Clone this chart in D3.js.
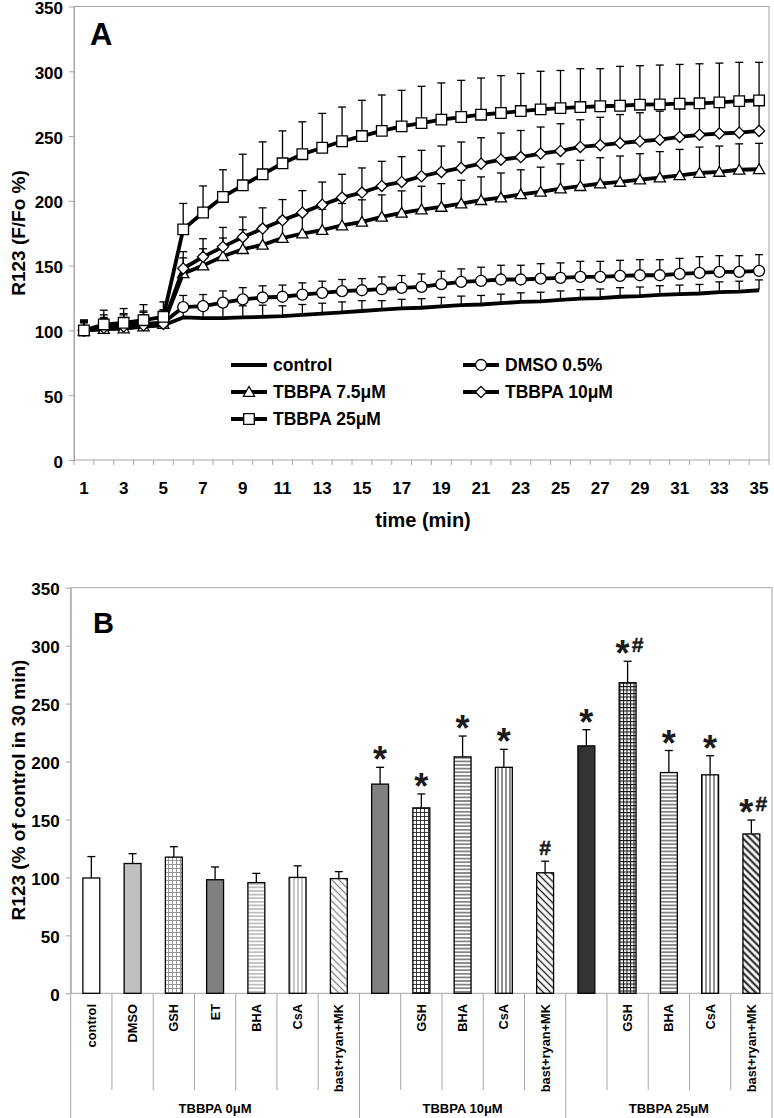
<!DOCTYPE html>
<html><head><meta charset="utf-8">
<script src="https://cdn.jsdelivr.net/npm/d3@7"></script>
<style>body{margin:0;background:#fff}</style>
</head><body><svg id="c" width="774" height="1118"></svg>
<script>
// ---------- Panel A data ----------
const times=[1,2,3,4,5,6,7,8,9,10,11,12,13,14,15,16,17,18,19,20,21,22,23,24,25,26,27,28,29,30,31,32,33,34,35];
const yTicks=[0,50,100,150,200,250,300,350];
const control=[100,101,102,103,104,110,109.5,109.5,110,110.5,111,112,113,114,115,116,117,117.5,118.5,119.5,120,121,122,122.5,123.5,124.5,125,126,126.5,127.5,128,128.5,129.5,130,131];
const controlErr=[7,8,8,9,9,10,10,9,9,9,8,8,8,8,8,7,7,7,7,7,7,7,7,7,7,7,7,7,7,7,7,7,8,8,8];
const dmso=[100,103,104,105,106,118,118.7,121.5,124,125.4,126,127.7,129,130.3,131,131.8,132.9,133.6,135.7,137.5,138.3,139.3,139.3,140,140.6,141.3,141.3,142.1,142.6,142.6,143.6,144.4,145.2,145.2,146];
const dmsoErr=[8,9,9,10,10,9,9,9,9,9,9,9,9,9,9,9.5,9.5,10,10,10,10.5,11,11,11.5,11.5,12,12,12,12,12,12,12.5,12.5,12.5,12.5];
const tbbpa75=[100,101,101.5,103,105,144,150,157.3,162.7,166,171.3,174.8,177.5,181,183.8,187.6,190.7,193.3,195.3,197.9,200.5,202.5,205,207,209.5,211.3,213.3,214.6,216.4,218,219.7,221.5,222.3,224,224.4];
const tbbpa75Err=[6,7,8,9,9,12,13,14,15,15,16,16,16,17,17,17,17,18,18,18,18,19,19,19,19,20,20,20,20,20,20,20,20,20,20];
const tbbpa10=[100,102,103,104,105,147.8,156.8,164.5,172,178.6,185,190.9,197,202.5,206.4,211.5,214.6,219,222.3,225.4,228.7,231.8,233.8,236.5,238.5,241.6,243,244.6,246,247.2,249.3,251,252,252.6,254];
const tbbpa10Err=[6,8,9,10,10,13,14,15,15.5,16,16,17,17.5,18,19,19,19.5,20,20,20,20,20.5,20.5,20.5,21,21,21.5,22,22,22,22,22,22.5,22.5,23];
const tbbpa25=[100,104.6,105.9,107.9,110.5,178,191,203,212,220.5,229,236,241,246,250,254,257.5,260,262.7,264.7,266.5,267.8,269.3,270.6,271.6,272.4,273,273.4,274.2,274.5,275,275.3,276,277,277.5];
const tbbpa25Err=[8,11,11,12,11.5,20,20.5,21,24,25,25,25,26.5,26.4,27.6,27.7,27.8,28.4,28.3,28.3,28.3,28.8,29,29.4,29,29.6,29,30.4,30.1,30.3,30.3,30.5,30.3,29.9,29.4];

// ---------- Panel B data ----------
const bCats=["control","DMSO","GSH","ET","BHA","CsA","bast+ryan+MK","","GSH","BHA","CsA","bast+ryan+MK","","GSH","BHA","CsA","bast+ryan+MK"];
const bVals=[99.5,112,117.5,98,95.5,100,99,180.5,160,204,195,104,213.5,268,190.5,188.5,137.5];
const bErr=[18.5,8.5,9,11,8,10,6,14.5,12,18,15.5,10,14,18.5,19,16.5,12];
const bSig=["","","","","","","","*","*","*","*","#","*","*#","*","*","*#"];
const groupNames=["TBBPA 0μM","TBBPA 10μM","TBBPA 25μM"];
const groupSizes=[7,5,5];

// ---------- styling ----------
const FONT="'Liberation Sans', Arial, sans-serif";
const AX="#a6a6a6";
const svg=d3.select("#c").style("font-family",FONT);

// ================= PANEL A =================
const xA=d3.scaleBand().domain(times).range([74,769]).padding(0);
const yA=d3.scaleLinear().domain([0,350]).range([460,6.5]);
const cx=t=>xA(t)+xA.bandwidth()/2;

const gA=svg.append("g");
gA.append("rect").attr("x",74).attr("y",yA(350)).attr("width",769-74).attr("height",yA(0)-yA(350))
  .attr("fill","none").attr("stroke",AX).attr("stroke-width",1);

const axA=gA.append("g").attr("transform","translate(74,0)")
  .call(d3.axisLeft(yA).tickValues(yTicks).tickSize(5).tickSizeOuter(0).tickPadding(6));
axA.selectAll("path,line").attr("stroke",AX);
axA.selectAll("text").attr("font-size",17).attr("font-weight","bold").attr("fill","#000").attr("font-family",FONT).attr("dy","0.42em");

// x ticks at boundaries
gA.append("g").selectAll("line").data(times).join("line")
  .attr("x1",d=>xA(d)).attr("x2",d=>xA(d)).attr("y1",yA(0)).attr("y2",yA(0)+5).attr("stroke",AX);
gA.append("line").attr("x1",769).attr("x2",769).attr("y1",yA(0)).attr("y2",yA(0)+5).attr("stroke",AX);
gA.append("g").selectAll("text").data(times.filter(t=>t%2===1)).join("text")
  .attr("x",d=>cx(d)).attr("y",494).attr("text-anchor","middle")
  .attr("font-size",17).attr("font-weight","bold").text(d=>d);

gA.append("text").attr("x",423).attr("y",527).attr("text-anchor","middle")
  .attr("font-size",20).attr("font-weight","bold").text("time (min)");
gA.append("text").attr("transform","translate(25,233) rotate(-90)").attr("text-anchor","middle")
  .attr("font-size",19).attr("font-weight","bold").text("R123 (F/Fo %)");
gA.append("text").attr("x",90).attr("y",45).attr("font-size",31).attr("font-weight","bold").text("A");

function markerPath(type){
  if(type==="circle") return d3.symbol(d3.symbolCircle,95)();
  if(type==="square") return "M-5.3,-5.3H5.3V5.3H-5.3Z";
  if(type==="diamond") return "M0,-5.6L5.6,0L0,5.6L-5.6,0Z";
  if(type==="triangle") return "M0,-5.5L5.6,4.3L-5.6,4.3Z";
  return null;
}

const series=[
  {name:"control",vals:control,err:controlErr,mk:null},
  {name:"DMSO 0.5%",vals:dmso,err:dmsoErr,mk:"circle"},
  {name:"TBBPA 7.5μM",vals:tbbpa75,err:tbbpa75Err,mk:"triangle"},
  {name:"TBBPA 10μM",vals:tbbpa10,err:tbbpa10Err,mk:"diamond"},
  {name:"TBBPA 25μM",vals:tbbpa25,err:tbbpa25Err,mk:"square"}
];

// error bars
series.forEach(s=>{
  const g=gA.append("g").attr("stroke","#000").attr("stroke-width",1.3);
  times.forEach((t,i)=>{
    const x=cx(t), y0=yA(s.vals[i]), y1=yA(s.vals[i]+s.err[i]);
    g.append("line").attr("x1",x).attr("x2",x).attr("y1",y0).attr("y2",y1);
    g.append("line").attr("x1",x-4).attr("x2",x+4).attr("y1",y1).attr("y2",y1);
  });
});
// lines + markers
const line=d3.line().x((d,i)=>cx(times[i])).y(d=>yA(d));
series.forEach(s=>{
  gA.append("path").datum(s.vals).attr("d",line).attr("fill","none")
    .attr("stroke","#000").attr("stroke-width",3.8).attr("stroke-linejoin","round");
  if(s.mk){
    gA.append("g").selectAll("path").data(s.vals).join("path")
      .attr("d",markerPath(s.mk))
      .attr("transform",(d,i)=>`translate(${cx(times[i])},${yA(d)})`)
      .attr("fill","#fff").attr("stroke","#000").attr("stroke-width",1.3);
  }
});

// legend
const legPos=[[231,365],[463,365],[231,392],[463,392],[231,419]];
series.forEach((s,k)=>{
  const [lx,ly]=legPos[k];
  const g=gA.append("g");
  g.append("line").attr("x1",lx).attr("x2",lx+36).attr("y1",ly).attr("y2",ly)
    .attr("stroke","#000").attr("stroke-width",3.8);
  if(s.mk) g.append("path").attr("d",markerPath(s.mk)).attr("transform",`translate(${lx+18},${ly})`)
    .attr("fill","#fff").attr("stroke","#000").attr("stroke-width",1.3);
  g.append("text").attr("x",lx+42).attr("y",ly+6).attr("font-size",17.5).attr("font-weight","bold").text(s.name);
});

// ================= PANEL B =================
const idx=bVals.map((d,i)=>i);
const xB=d3.scaleBand().domain(idx).range([70.7,772]).padding(0);
const yB=d3.scaleLinear().domain([0,350]).range([993.3,587.7]);
const bcx=i=>xB(i)+xB.bandwidth()/2;
const barW=xB.bandwidth()*0.41;

const defs=svg.append("defs");
function gridPat(id,s,col,w){
  const p=defs.append("pattern").attr("id",id).attr("patternUnits","userSpaceOnUse").attr("width",s).attr("height",s);
  p.append("rect").attr("width",s).attr("height",s).attr("fill","#fff");
  p.append("path").attr("d",`M0,0.5H${s}M0.5,0V${s}`).attr("stroke",col).attr("stroke-width",w);
}
function hPat(id,s,col,w){
  const p=defs.append("pattern").attr("id",id).attr("patternUnits","userSpaceOnUse").attr("width",s).attr("height",s);
  p.append("rect").attr("width",s).attr("height",s).attr("fill","#fff");
  p.append("path").attr("d",`M0,${s/2}H${s}`).attr("stroke",col).attr("stroke-width",w);
}
function vPat(id,s,col,w){
  const p=defs.append("pattern").attr("id",id).attr("patternUnits","userSpaceOnUse").attr("width",s).attr("height",s);
  p.append("rect").attr("width",s).attr("height",s).attr("fill","#fff");
  p.append("path").attr("d",`M${s/2},0V${s}`).attr("stroke",col).attr("stroke-width",w);
}
function dPat(id,s,col,w){
  const p=defs.append("pattern").attr("id",id).attr("patternUnits","userSpaceOnUse").attr("width",s).attr("height",s)
    .attr("patternTransform","rotate(-45)");
  p.append("rect").attr("width",s).attr("height",s).attr("fill","#fff");
  p.append("path").attr("d",`M${s/2},0V${s}`).attr("stroke",col).attr("stroke-width",w);
}
gridPat("gsh0",4,"#8c8c8c",0.9);
gridPat("gsh10",4,"#222",0.9);
gridPat("gsh25",3.5,"#111",1);
hPat("h0",3.6,"#8c8c8c",1);
hPat("h1",3.6,"#222",1);
vPat("v0",4,"#8c8c8c",1);
vPat("v1",4,"#222",1);
dPat("d0",5,"#8c8c8c",1.4);
dPat("d10",5,"#222",1.4);
dPat("d25",5,"#111",2);

const barFill=["#fff","#c0c0c0","url(#gsh0)","#808080","url(#h0)","url(#v0)","url(#d0)",
  "#808080","url(#gsh10)","url(#h1)","url(#v1)","url(#d10)",
  "#333333","url(#gsh25)","url(#h1)","url(#v1)","url(#d25)"];

const gB=svg.append("g");
gB.append("rect").attr("x",70.7).attr("y",yB(350)).attr("width",772-70.7).attr("height",yB(0)-yB(350))
  .attr("fill","none").attr("stroke",AX).attr("stroke-width",1);
const axB=gB.append("g").attr("transform","translate(70.7,0)")
  .call(d3.axisLeft(yB).tickValues(yTicks).tickSize(5).tickSizeOuter(0).tickPadding(6));
axB.selectAll("path,line").attr("stroke",AX);
axB.selectAll("text").attr("font-size",17).attr("font-weight","bold").attr("fill","#000").attr("font-family",FONT).attr("dy","0.4em");

// category separators
let starts=[0]; groupSizes.forEach((n,k)=>{ if(k>0) starts.push(starts[k-1]+groupSizes[k-1]); });
gB.append("line").attr("x1",70.7).attr("x2",70.7).attr("y1",yB(0)).attr("y2",1118).attr("stroke",AX);
idx.forEach(i=>{
  if(i===0) return;
  const isGroup=starts.includes(i);
  gB.append("line").attr("x1",xB(i)).attr("x2",xB(i)).attr("y1",yB(0)).attr("y2",isGroup?1118:1090).attr("stroke",AX);
});
gB.append("line").attr("x1",772).attr("x2",772).attr("y1",yB(0)).attr("y2",1118).attr("stroke",AX);

// group labels
groupNames.forEach((g,k)=>{
  const a=xB(starts[k]), b=xB(starts[k]+groupSizes[k]-1)+xB.bandwidth();
  gB.append("text").attr("x",(a+b)/2).attr("y",1113).attr("text-anchor","middle")
    .attr("font-size",13).attr("font-weight","bold").text(g);
});
// category labels
gB.append("g").selectAll("text").data(idx).join("text")
  .attr("transform",i=>`translate(${bcx(i)+4.5},1004) rotate(-90)`)
  .attr("text-anchor","end").attr("font-size",12.8).attr("font-weight","bold").text(i=>bCats[i]);

// bars
gB.append("g").selectAll("rect").data(idx).join("rect")
  .attr("x",i=>bcx(i)-barW/2).attr("width",barW)
  .attr("y",i=>yB(bVals[i])).attr("height",i=>yB(0)-yB(bVals[i]))
  .attr("fill",i=>barFill[i]).attr("stroke","#000").attr("stroke-width",1.3);
// error bars
const gE=gB.append("g").attr("stroke","#000").attr("stroke-width",1.3);
idx.forEach(i=>{
  const x=bcx(i), y0=yB(bVals[i]), y1=yB(bVals[i]+bErr[i]);
  gE.append("line").attr("x1",x).attr("x2",x).attr("y1",y0).attr("y2",y1);
  gE.append("line").attr("x1",x-4).attr("x2",x+4).attr("y1",y1).attr("y2",y1);
});
// significance marks
idx.forEach(i=>{
  const s=bSig[i]; if(!s) return;
  const x=bcx(i), cap=yB(bVals[i]+bErr[i]);
  const hasStar=s.includes("*"), hasHash=s.includes("#");
  if(hasStar){
    gB.append("text").attr("x",hasHash?x-5:x).attr("y",cap+5).attr("text-anchor","middle")
      .attr("font-size",36).attr("font-weight","bold").attr("fill","#1a1a1a").text("*");
  }
  if(hasHash){
    gB.append("text").attr("x",hasStar?x+10:x).attr("y",hasStar?cap-9:cap-6.5).attr("text-anchor","middle")
      .attr("font-size",21).attr("font-weight","bold").attr("fill","#1a1a1a")
      .attr("stroke","#1a1a1a").attr("stroke-width",0.5).text("#");
  }
});

gB.append("text").attr("transform","translate(25,790) rotate(-90)").attr("text-anchor","middle")
  .attr("font-size",19).attr("font-weight","bold").text("R123 (% of control in 30 min)");
gB.append("text").attr("x",93).attr("y",633).attr("font-size",29).attr("font-weight","bold").text("B");
</script></body></html>
